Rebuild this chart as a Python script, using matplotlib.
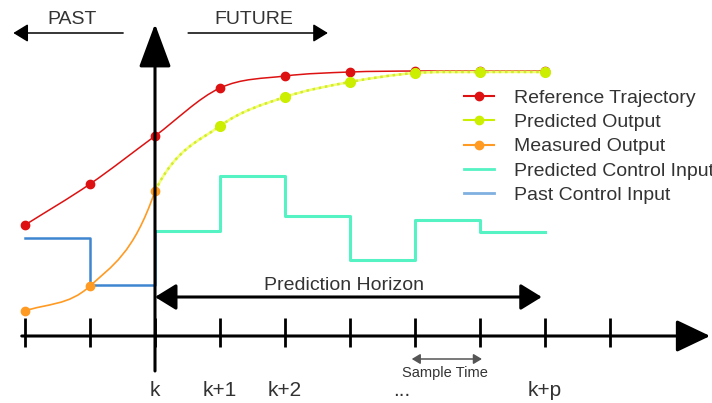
import matplotlib.pyplot as plt
from matplotlib.lines import Line2D
from matplotlib.path import Path
from matplotlib.patches import PathPatch
import numpy as np

plt.rcParams['font.family'] = ['Liberation Sans', 'DejaVu Sans']

TEXT_COLOR = '#333333'
RED = '#dd1111'
GREEN = '#ccee00'
ORANGE = '#ff9a22'
CYAN = '#55f2c4'
BLUE = '#3f86d0'

# time steps relative to the current instant k (k = 0)
past_steps = [-2, -1, 0]
future_steps = [0, 1, 2, 3, 4, 5, 6]
ref_steps = [-2, -1, 0, 1, 2, 3, 4, 5, 6]

reference = [11.1, 15.2, 20.0, 24.8, 26.0, 26.4, 26.5, 26.5, 26.5]
predicted_output = [14.5, 21.0, 23.9, 25.4, 26.3, 26.4, 26.4]
measured_output = [2.5, 5.0, 14.5]
past_input = [9.8, 5.1, 10.5]
predicted_input = [10.5, 16.0, 12.0, 7.6, 11.6, 10.4]

tick_steps = [-2, -1, 0, 1, 2, 3, 4, 5, 6, 7]
tick_labels = {0: 'k', 1: 'k+1', 2: 'k+2', 3.8: '...', 6: 'k+p'}


def smooth_path(xs, ys, start_slope=None, end_slope=None):
    '''
    Cubic bezier path through the points (Catmull-Rom tangents)
    '''
    xs = np.asarray(xs, float)
    ys = np.asarray(ys, float)
    slopes = np.gradient(ys, xs)
    if start_slope is not None:
        slopes[0] = start_slope
    if end_slope is not None:
        slopes[-1] = end_slope
    verts = [(xs[0], ys[0])]
    codes = [Path.MOVETO]
    for i in range(len(xs) - 1):
        dx = (xs[i + 1] - xs[i]) / 3
        verts += [(xs[i] + dx, ys[i] + slopes[i] * dx),
                  (xs[i + 1] - dx, ys[i + 1] - slopes[i + 1] * dx),
                  (xs[i + 1], ys[i + 1])]
        codes += [Path.CURVE4] * 3
    return Path(verts, codes)


def arrow(ax, start, end, style, lw, color='black'):
    ax.annotate('', xy=end, xytext=start,
                arrowprops=dict(arrowstyle=style, lw=lw, color=color,
                                shrinkA=0, shrinkB=0, mutation_scale=1))


fig = plt.figure(figsize=(7.12, 4.03), dpi=100)
ax = fig.add_axes([0, 0, 1, 1])
ax.set_xlim(-155 / 65, (712 - 155) / 65)
ax.set_ylim(-6.7, 33.6)
ax.axis('off')

# time axis and vertical "now" axis
arrow(ax, (-2.05, 0), (8.54, 0), '-|>,head_length=21,head_width=10', 2.2)
arrow(ax, (0, -3.5), (0, 31.2), '-|>,head_length=27,head_width=10', 2.2)
for step in tick_steps:
    ax.plot([step, step], [-1.1, 1.8], color='black', lw=2, solid_capstyle='butt')
for step, label in tick_labels.items():
    ax.text(step, -5.4, label, ha='center', va='center', fontsize=15, color=TEXT_COLOR)

# past / future arrows
arrow(ax, (-0.49, 30.3), (-2.18, 30.3), '-|>,head_length=9,head_width=5.5', 1.1)
arrow(ax, (0.51, 30.3), (2.66, 30.3), '-|>,head_length=9,head_width=5.5', 1.1)
ax.text(-1.28, 31.7, 'PAST', ha='center', va='center', fontsize=14, color=TEXT_COLOR)
ax.text(1.52, 31.7, 'FUTURE', ha='center', va='center', fontsize=14, color=TEXT_COLOR)

# prediction horizon and sample time
arrow(ax, (0, 3.9), (5.95, 3.9), '<|-|>,head_length=13,head_width=8', 2.2)
ax.text(2.9, 5.0, 'Prediction Horizon', ha='center', va='center', fontsize=14, color=TEXT_COLOR)
arrow(ax, (3.95, -2.3), (5.03, -2.3), '<|-|>,head_length=5,head_width=3', 1.1, '#555555')
ax.text(4.46, -3.7, 'Sample Time', ha='center', va='center', fontsize=10.5, color=TEXT_COLOR)

# control inputs
ax.step(future_steps, predicted_input + [predicted_input[-1]], where='post',
        color=CYAN, lw=2.2)
ax.step(past_steps, past_input, where='post', color=BLUE, lw=1.8)

# outputs
ax.add_patch(PathPatch(smooth_path(ref_steps, reference), fill=False,
                       edgecolor=RED, lw=1.1))
ax.add_patch(PathPatch(smooth_path(past_steps, measured_output, start_slope=2.3,
                                   end_slope=19), fill=False,
                       edgecolor=ORANGE, lw=1.2))
pred_path = smooth_path(future_steps, predicted_output, start_slope=13, end_slope=0)
ax.add_patch(PathPatch(pred_path, fill=False, edgecolor='#f2ff70', lw=1.8))
ax.add_patch(PathPatch(pred_path, fill=False, edgecolor='#d2ea30', lw=1.8,
                       linestyle=(0, (1, 1.5))))

ax.plot(ref_steps, reference, 'o', color=RED, ms=6)
ax.plot(past_steps, measured_output, 'o', color=ORANGE, ms=6)
ax.plot(future_steps[1:], predicted_output[1:], 'o', color=GREEN, ms=7)

handles = [
    Line2D([], [], color=RED, lw=1.5, marker='o', ms=6),
    Line2D([], [], color=GREEN, lw=1.5, marker='o', ms=6),
    Line2D([], [], color=ORANGE, lw=1.5, marker='o', ms=6),
    Line2D([], [], color=CYAN, lw=2),
    Line2D([], [], color='#7fb0e0', lw=2),
]
labels = ['Reference Trajectory', 'Predicted Output', 'Measured Output',
          'Predicted Control Input', 'Past Control Input']
leg = ax.legend(handles, labels, loc='upper left', frameon=False, fontsize=14,
                bbox_to_anchor=(464 / 712, 1 - 89 / 403), bbox_transform=fig.transFigure,
                borderpad=0, borderaxespad=0, handlelength=1.55, handletextpad=1.0,
                labelspacing=0.35, labelcolor=TEXT_COLOR)

fig.savefig('out.png', dpi=100)
